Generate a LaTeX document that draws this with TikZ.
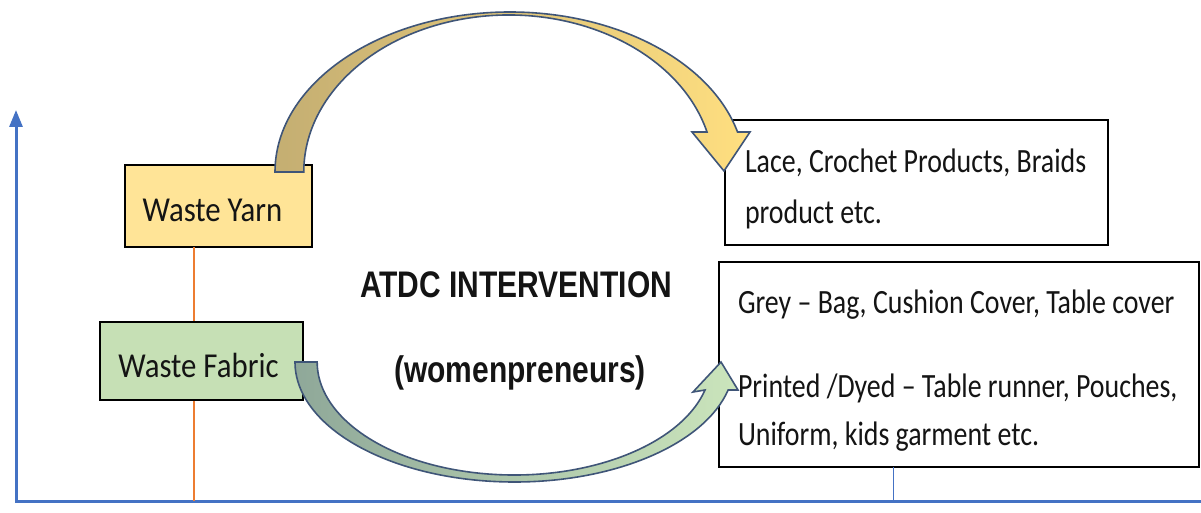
\documentclass[tikz,border=0pt]{standalone}
\usepackage{fontspec}
\setmainfont{Carlito}
\newfontfamily\labelfont{Carlito}[FakeStretch=0.82]
\newfontfamily\tagfont{Carlito}[FakeStretch=0.88]
\newfontfamily\headfont{Liberation Sans}[FakeStretch=0.81]
\usetikzlibrary{arrows.meta}

\definecolor{axisblue}{HTML}{4472C4}
\definecolor{orangeline}{HTML}{ED7D31}
\definecolor{yarnfill}{HTML}{FFE497}
\definecolor{fabricfill}{HTML}{C6E0B5}
\definecolor{arrowedge}{HTML}{3F5578}
\definecolor{tanleft}{HTML}{C4AE72}
\definecolor{yellowright}{HTML}{FFDF80}
\definecolor{greenleft}{HTML}{8FA899}
\definecolor{greenright}{HTML}{CBE5BC}
\definecolor{inktext}{HTML}{141414}

\tikzset{
  box/.style={draw=black, line width=2.2pt, inner sep=0pt, outer sep=0pt},
  labeltext/.style={inner sep=0pt, outer sep=0pt, text=inktext,
    font=\labelfont\fontsize{34}{40}\selectfont},
  tagtext/.style={inner sep=0pt, outer sep=0pt, text=inktext,
    font=\tagfont\fontsize{35}{40}\selectfont},
  headtext/.style={inner sep=0pt, outer sep=0pt, text=inktext,
    font=\headfont\bfseries\fontsize{37}{44}\selectfont},
  axisline/.style={draw=axisblue, line width=3pt, line join=miter},
  bandarrow/.style={draw=arrowedge, line width=1.6pt, line join=miter},
}

\begin{document}
\begin{tikzpicture}[x=1pt, y=1pt]
\useasboundingbox[fill=white] (0,0) rectangle (1201,-513);

% axes
\coordinate (origin) at (16,-501);
\coordinate (ytop) at (16,-110);
\coordinate (xend) at (1210,-501);
\draw[axisline, -{Triangle[width=13pt,length=17pt]}] (xend) -- (origin) -- (ytop);

% source and product boxes
\node[box, fill=yarnfill, minimum width=187pt, minimum height=82pt] (yarn) at (218.5,-206) {};
\node[box, fill=white, minimum width=383pt, minimum height=125pt] (lace) at (916.5,-182.5) {};
\node[box, fill=white, minimum width=480pt, minimum height=205pt] (goods) at (959,-364.5) {};

% drop lines to the axis
\coordinate (yarnfoot) at (194,-501);
\coordinate (goodsfoot) at (893,-501);
\draw[orangeline, line width=1.6pt] (yarn.south -| yarnfoot) -- (yarnfoot);
\draw[axisblue, line width=1pt] (goods.south -| goodsfoot) -- (goodsfoot);

% the fabric box sits over the orange line
\node[box, fill=fabricfill, minimum width=203pt, minimum height=78pt] (fabric) at (201.5,-361) {};

% upper curved arrow: waste yarn to lace products
\path[bandarrow, left color=tanleft, right color=yellowright]
  (275,-172) arc[start angle=180, end angle=14.48, x radius=235, y radius=160]
  -- (750,-132) -- (724,-171) -- (692,-132) -- (707,-132)
  arc[start angle=14.76, end angle=180, x radius=205, y radius=157] -- cycle;

% lower curved arrow: waste fabric to fabric products
\path[bandarrow, left color=greenleft, right color=greenright]
  (295,-362) arc[start angle=180, end angle=346.51, x radius=219.6, y radius=120]
  -- (738,-390) -- (721,-362) -- (693,-392) -- (705,-390)
  arc[start angle=345.65, end angle=180, x radius=197, y radius=113] -- cycle;

% texts
\node[tagtext, anchor=base] (yarntext) at (212.5,-222) {Waste Yarn};
\node[tagtext, anchor=base] (fabrictext) at (198.5,-377) {Waste Fabric};
\node[headtext, anchor=base] (atdc) at (516,-297) {ATDC INTERVENTION};
\node[headtext, anchor=base] (women) at (520,-382) {(womenpreneurs)};
\node[labeltext, anchor=base west] (lace1) at (745,-172) {Lace, Crochet Products, Braids};
\node[labeltext, anchor=base west] (lace2) at (745,-223) {product etc.};
\node[labeltext, anchor=base west] (grey) at (738,-313) {Grey – Bag, Cushion Cover, Table cover};
\node[labeltext, anchor=base west] (printed1) at (738,-397) {Printed /Dyed – Table runner, Pouches,};
\node[labeltext, anchor=base west] (printed2) at (738,-445) {Uniform, kids garment etc.};
\end{tikzpicture}
\end{document}
